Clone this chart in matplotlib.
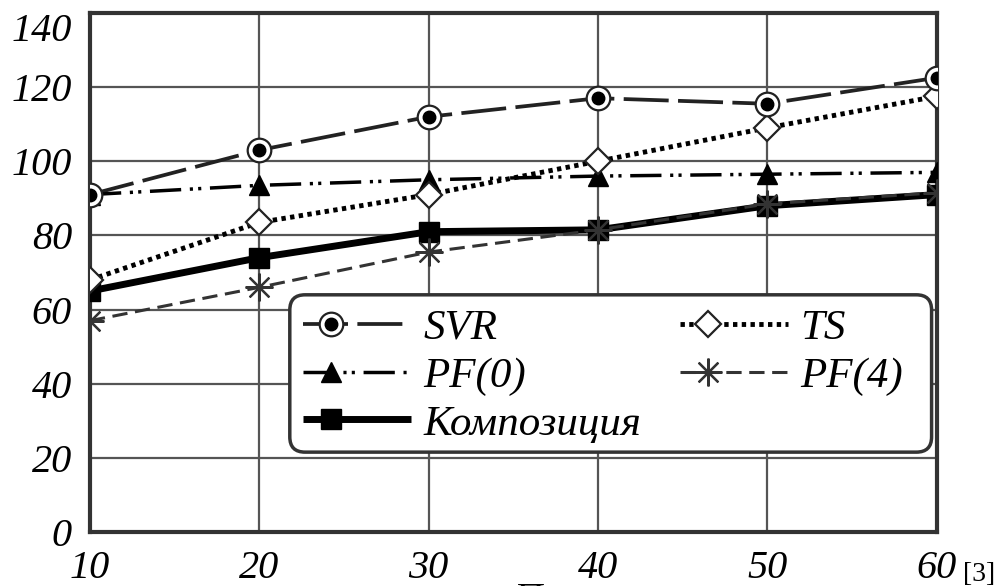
import matplotlib
matplotlib.use("Agg")
import matplotlib.pyplot as plt
from matplotlib.legend_handler import HandlerLine2D, HandlerTuple
from matplotlib.lines import Line2D
from matplotlib.patches import FancyBboxPatch

x = [10, 20, 30, 40, 50, 60]
svr = [91, 103, 112, 117, 115.5, 122.5]
ts = [68, 83.5, 91, 100, 109, 117.5]
pf0 = [91, 93.5, 95, 96, 96.5, 97]
komp = [65, 74, 81, 81.5, 88, 91]
pf4 = [57, 66, 75.5, 81.5, 88.5, 91.5]
yticks = [0, 20, 40, 60, 80, 100, 120, 140]
labels = ['SVR', 'PF(0)', 'Композиция', 'TS', 'PF(4)']

plt.rcParams['font.family'] = ['Liberation Serif', 'DejaVu Serif']
plt.rcParams['lines.solid_capstyle'] = 'butt'
plt.rcParams['lines.dash_capstyle'] = 'butt'

fig = plt.figure(figsize=(10.02, 5.86), dpi=100)
ax = fig.add_axes([0.0898, 0.092, 0.845, 0.886])

# lines
l_svr, = ax.plot(x, svr, color='#222', lw=2.7, dashes=(12, 2.5), zorder=3)
l_ts, = ax.plot(x, ts, color='black', lw=3.5, dashes=(0.9, 0.9), zorder=3)
l_pf0, = ax.plot(x, pf0, color='black', lw=2.5, dashes=(9, 2.5, 0.9, 1.5, 0.9, 2.5), zorder=3)
l_komp, = ax.plot(x, komp, color='black', lw=5, zorder=3)
l_pf4, = ax.plot(x, pf4, color='#333', lw=2.2, dashes=(5, 2.5), zorder=3)

# markers
m_pf0, = ax.plot(x, pf0, ls='none', marker='^', ms=15, color='black', zorder=4)
m_komp, = ax.plot(x, komp, ls='none', marker='s', ms=14, color='black', zorder=4)
m_ts, = ax.plot(x, ts, ls='none', marker='D', ms=13, mfc='white', mec='#222', mew=1.6, zorder=5)
m_pf4, = ax.plot(x, pf4, ls='none', marker=(8, 2, 0), ms=20, mec='#333', mew=1.6, zorder=5)
m_svr1, = ax.plot(x, svr, ls='none', marker='o', ms=17, mfc='white', mec='#222', mew=1.6, zorder=6)
m_svr2, = ax.plot(x, svr, ls='none', marker='o', ms=9, mfc='black', mec='black', zorder=7)

ax.set_xlim(10, 60)
ax.set_ylim(0, 140)
ax.set_xticks(x)
ax.set_yticks(yticks)
ax.grid(True, color='#555', lw=1.6)
ax.set_axisbelow(True)
for s in ax.spines.values():
    s.set_linewidth(3)
    s.set_color('#333')
ax.tick_params(length=0, labelsize=29, pad=13)
for t in ax.get_xticklabels() + ax.get_yticklabels():
    t.set_fontstyle('italic')
ax.get_yticklabels()[-1].set_verticalalignment('top')


class LeftMarker(HandlerLine2D):
    def create_artists(self, legend, orig_handle, xdescent, ydescent,
                       width, height, fontsize, trans):
        arts = super().create_artists(legend, orig_handle, xdescent, ydescent,
                                      width, height, fontsize, trans)
        for a in arts:
            xd = a.get_xdata()
            if len(xd) == 3:
                a.set_xdata([xd[0], xd[0] + 0.26 * (xd[2] - xd[0]), xd[2]])
        return arts


# legend box
box = FancyBboxPatch((0.236, 0.154), 0.758, 0.303, transform=ax.transAxes,
                     boxstyle='round,pad=0,rounding_size=0.018',
                     mutation_aspect=1.63, fc='white', ec='#333', lw=2.5,
                     zorder=8)
ax.add_patch(box)

handles = [(l_svr, m_svr1, m_svr2), (l_pf0, m_pf0), (l_komp, m_komp),
           (l_ts, m_ts), (l_pf4, m_pf4)]
leg = ax.legend(handles, labels, ncol=2, loc='upper left',
                bbox_to_anchor=(0.2515, 0.43), borderaxespad=0,
                prop={'size': 31, 'style': 'italic'}, frameon=False,
                handlelength=2.5, handletextpad=0.3, columnspacing=0.9,
                labelspacing=0.2, borderpad=0,
                handler_map={Line2D: LeftMarker(numpoints=1),
                             tuple: HandlerTuple(ndivide=1)})
leg.set_zorder(10)

fig.text(0.961, 0.02, '[3]', fontsize=20, ha='left', va='center')
# axis title, cut off by the bottom edge as in the source image
fig.text(0.526, 0.006, 'П', fontsize=28, ha='center', va='top', style='italic')

fig.savefig('out.png', dpi=100)
